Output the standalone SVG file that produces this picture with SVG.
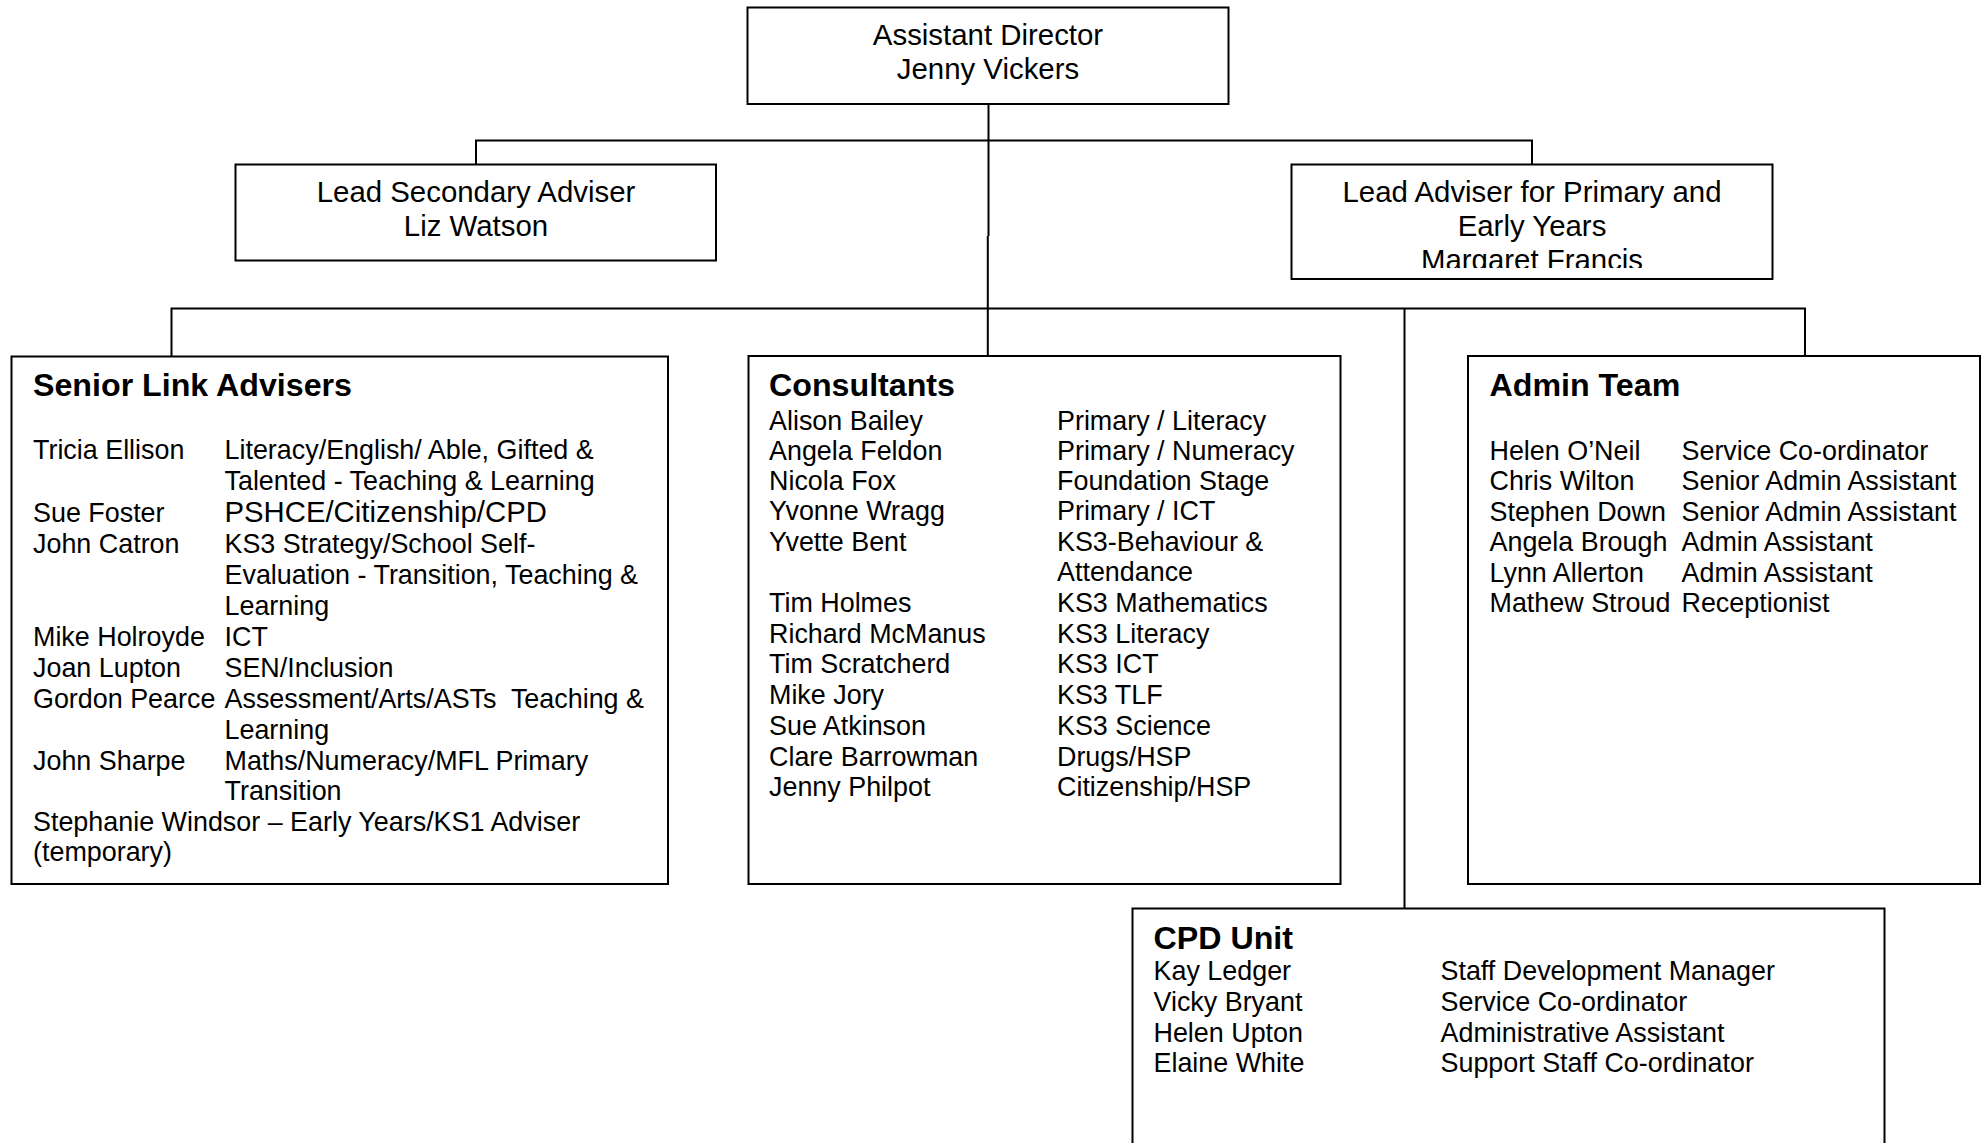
<svg xmlns="http://www.w3.org/2000/svg" width="1986" height="1143" viewBox="0 0 1986 1143">
  <style>
    .box { fill: #fff; stroke: #000; stroke-width: 2; }
    .wire { fill: none; stroke: #000; stroke-width: 2; }
    text { font-family: "Liberation Sans", Arial, sans-serif; fill: #000; }
    .title { font-size: 29.4px; text-anchor: middle; }
    .head { font-size: 32.2px; font-weight: bold; }
    .body { font-size: 26.9px; }
    .big { font-size: 29.3px; }
  </style>
  <defs>
    <clipPath id="primaryClip">
      <rect x="1292" y="165" width="480" height="103"/>
    </clipPath>
  </defs>

  <rect width="1986" height="1143" fill="#fff"/>

  <!-- connectors -->
  <g id="connectors">
    <path class="wire" d="M988.5 104 V236"/>
    <path class="wire" d="M987.8 236 V357"/>
    <path class="wire" d="M476 164 V140.5 H1532 V164"/>
    <path class="wire" d="M171.5 357 V308.5 H1805 V356"/>
    <path class="wire" d="M1404.5 308.5 V908"/>
  </g>

  <!-- Assistant Director -->
  <g id="assistant-director">
    <rect class="box" x="747.5" y="7.5" width="481" height="96.5"/>
    <text class="title" x="988" y="45">Assistant Director</text>
    <text class="title" x="988" y="78.5">Jenny Vickers</text>
  </g>

  <!-- Lead Secondary Adviser -->
  <g id="lead-secondary">
    <rect class="box" x="235.5" y="164.5" width="480.5" height="96"/>
    <text class="title" x="476" y="201.5">Lead Secondary Adviser</text>
    <text class="title" x="476" y="235.5">Liz Watson</text>
  </g>

  <!-- Lead Adviser for Primary and Early Years -->
  <g id="lead-primary">
    <rect class="box" x="1291.5" y="164.5" width="481" height="114.5"/>
    <g clip-path="url(#primaryClip)">
      <text class="title" x="1532" y="201.5">Lead Adviser for Primary and</text>
      <text class="title" x="1532" y="235.5">Early Years</text>
      <text class="title" x="1532" y="269.5">Margaret Francis</text>
    </g>
  </g>

  <!-- Senior Link Advisers -->
  <g id="senior-link-advisers">
    <rect class="box" x="11.5" y="356.5" width="656.5" height="527.5"/>
    <text class="head" x="33" y="396">Senior Link Advisers</text>
    <g class="body">
      <text x="33" y="459">Tricia Ellison</text>
      <text x="224.5" y="459">Literacy/English/ Able, Gifted &amp;</text>
      <text x="224.5" y="489.5">Talented - Teaching &amp; Learning</text>
      <text x="33" y="521.5">Sue Foster</text>
      <text class="big" x="224.5" y="521.5">PSHCE/Citizenship/CPD</text>
      <text x="33" y="553">John Catron</text>
      <text x="224.5" y="553">KS3 Strategy/School Self-</text>
      <text x="224.5" y="584">Evaluation - Transition, Teaching &amp;</text>
      <text x="224.5" y="615">Learning</text>
      <text x="33" y="645.5">Mike Holroyde</text>
      <text x="224.5" y="645.5">ICT</text>
      <text x="33" y="676.5">Joan Lupton</text>
      <text x="224.5" y="676.5">SEN/Inclusion</text>
      <text x="33" y="707.5">Gordon Pearce</text>
      <text x="224.5" y="707.5" xml:space="preserve">Assessment/Arts/ASTs  Teaching &amp;</text>
      <text x="224.5" y="738.5">Learning</text>
      <text x="33" y="769.5">John Sharpe</text>
      <text x="224.5" y="769.5">Maths/Numeracy/MFL Primary</text>
      <text x="224.5" y="800">Transition</text>
      <text x="33" y="830.5">Stephanie Windsor – Early Years/KS1 Adviser</text>
      <text x="33" y="861">(temporary)</text>
    </g>
  </g>

  <!-- Consultants -->
  <g id="consultants">
    <rect class="box" x="748.5" y="356" width="592" height="528"/>
    <text class="head" x="769" y="396">Consultants</text>
    <g class="body">
      <text x="769" y="429.5">Alison Bailey</text>
      <text x="1057" y="429.5">Primary / Literacy</text>
      <text x="769" y="459.5">Angela Feldon</text>
      <text x="1057" y="459.5">Primary / Numeracy</text>
      <text x="769" y="489.5">Nicola Fox</text>
      <text x="1057" y="489.5">Foundation Stage</text>
      <text x="769" y="520">Yvonne Wragg</text>
      <text x="1057" y="520">Primary / ICT</text>
      <text x="769" y="550.5">Yvette Bent</text>
      <text x="1057" y="550.5">KS3-Behaviour &amp;</text>
      <text x="1057" y="581">Attendance</text>
      <text x="769" y="611.5">Tim Holmes</text>
      <text x="1057" y="611.5">KS3 Mathematics</text>
      <text x="769" y="642.5">Richard McManus</text>
      <text x="1057" y="642.5">KS3 Literacy</text>
      <text x="769" y="673">Tim Scratcherd</text>
      <text x="1057" y="673">KS3 ICT</text>
      <text x="769" y="704">Mike Jory</text>
      <text x="1057" y="704">KS3 TLF</text>
      <text x="769" y="734.5">Sue Atkinson</text>
      <text x="1057" y="734.5">KS3 Science</text>
      <text x="769" y="765.5">Clare Barrowman</text>
      <text x="1057" y="765.5">Drugs/HSP</text>
      <text x="769" y="796">Jenny Philpot</text>
      <text x="1057" y="796">Citizenship/HSP</text>
    </g>
  </g>

  <!-- Admin Team -->
  <g id="admin-team">
    <rect class="box" x="1468" y="356" width="512" height="528"/>
    <text class="head" x="1489.5" y="396">Admin Team</text>
    <g class="body">
      <text x="1489.5" y="459.5">Helen O’Neil</text>
      <text x="1681.5" y="459.5">Service Co-ordinator</text>
      <text x="1489.5" y="490">Chris Wilton</text>
      <text x="1681.5" y="490">Senior Admin Assistant</text>
      <text x="1489.5" y="520.5">Stephen Down</text>
      <text x="1681.5" y="520.5">Senior Admin Assistant</text>
      <text x="1489.5" y="551">Angela Brough</text>
      <text x="1681.5" y="551">Admin Assistant</text>
      <text x="1489.5" y="581.5">Lynn Allerton</text>
      <text x="1681.5" y="581.5">Admin Assistant</text>
      <text x="1489.5" y="612">Mathew Stroud</text>
      <text x="1681.5" y="612">Receptionist</text>
    </g>
  </g>

  <!-- CPD Unit -->
  <g id="cpd-unit">
    <rect class="box" x="1132.5" y="908.5" width="752" height="260"/>
    <text class="head" x="1153.5" y="948.5">CPD Unit</text>
    <g class="body">
      <text x="1153.5" y="980">Kay Ledger</text>
      <text x="1440.5" y="980">Staff Development Manager</text>
      <text x="1153.5" y="1010.5">Vicky Bryant</text>
      <text x="1440.5" y="1010.5">Service Co-ordinator</text>
      <text x="1153.5" y="1041.5">Helen Upton</text>
      <text x="1440.5" y="1041.5">Administrative Assistant</text>
      <text x="1153.5" y="1072">Elaine White</text>
      <text x="1440.5" y="1072">Support Staff Co-ordinator</text>
    </g>
  </g>
</svg>
